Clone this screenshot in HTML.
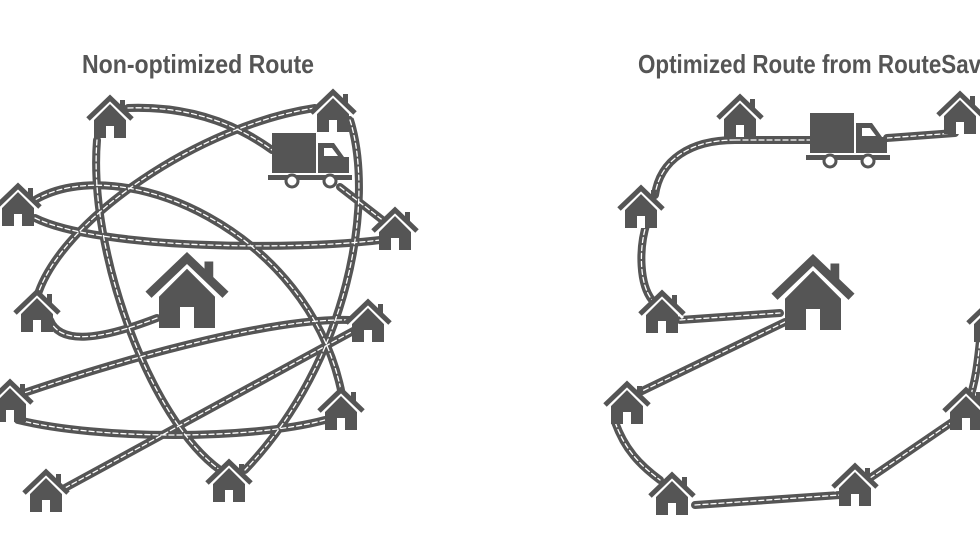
<!DOCTYPE html>
<html><head><meta charset="utf-8"><style>
html,body{margin:0;padding:0;background:#fff;}
svg{display:block}
</style></head><body>
<svg width="980" height="552" viewBox="0 0 980 552" xmlns="http://www.w3.org/2000/svg">
<defs>
<g id="h">
<rect x="10" y="-38" width="5" height="16" fill="#555"/>
<polygon points="-16,0 -16,-20 0,-35 16,-20 16,0" fill="#555"/>
<rect x="-4" y="-12" width="8" height="12" fill="#fff"/>
<polyline points="-21,-15 0,-36 21,-15" fill="none" stroke="#fff" stroke-width="3"/>
<polyline points="-22,-19 0,-40 22,-19" fill="none" stroke="#555" stroke-width="5"/>
</g>
<g id="t">
<rect x="0" y="0" width="44" height="40" fill="#555"/>
<path d="M46,10 H62 L72,24 H77 V40 H46 Z" fill="#555"/>
<path d="M52,15 H60 L66,23 H52 Z" fill="#fff"/>
<rect x="-4" y="42" width="84" height="5" fill="#555"/>
<circle cx="20" cy="48" r="6" fill="#fff" stroke="#555" stroke-width="3"/>
<circle cx="58" cy="48" r="6" fill="#fff" stroke="#555" stroke-width="3"/>
</g>
</defs>

<text x="198" y="73" text-anchor="middle" font-family="Liberation Sans, sans-serif" font-weight="bold" font-size="26" fill="#555" textLength="232" lengthAdjust="spacingAndGlyphs">Non-optimized Route</text>
<text x="638" y="73" font-family="Liberation Sans, sans-serif" font-weight="bold" font-size="26" fill="#555" textLength="368" lengthAdjust="spacingAndGlyphs">Optimized Route from RouteSavvy</text>

<g fill="none" stroke-linecap="round">
<g stroke="#555" stroke-width="8">
<path d="M128,108 Q210,105 272,150"/>
<path d="M340,187 L385,222"/>
<path d="M315,108 C200,125 60,220 37,297"/>
<path d="M350,120 C375,200 350,360 245,470"/>
<path d="M97,140 C88,250 150,420 220,470"/>
<path d="M35,200 C120,150 310,230 342,395"/>
<path d="M35,218 C100,250 300,250 380,240"/>
<path d="M157,318 C100,340 60,345 50,320"/>
<path d="M18,395 C150,350 280,318 350,320"/>
<path d="M18,420 C100,440 250,440 325,420"/>
<path d="M65,488 L355,330"/>
<path d="M735,140 L810,140"/>
<path d="M887,138 L955,133"/>
<path d="M735,140 C690,140 660,160 655,195"/>
<path d="M647,222 C638,250 640,285 652,300"/>
<path d="M680,320 L780,313"/>
<path d="M785,322 L640,392"/>
<path d="M615,422 C625,450 640,465 660,480"/>
<path d="M695,505 L840,495"/>
<path d="M870,478 L955,420"/>
<path d="M965,410 C975,390 978,360 980,340"/>
</g>
<g stroke="#fff" stroke-width="1.3" stroke-dasharray="5,3">
<path d="M128,108 Q210,105 272,150"/>
<path d="M340,187 L385,222"/>
<path d="M315,108 C200,125 60,220 37,297"/>
<path d="M350,120 C375,200 350,360 245,470"/>
<path d="M97,140 C88,250 150,420 220,470"/>
<path d="M35,200 C120,150 310,230 342,395"/>
<path d="M35,218 C100,250 300,250 380,240"/>
<path d="M157,318 C100,340 60,345 50,320"/>
<path d="M18,395 C150,350 280,318 350,320"/>
<path d="M18,420 C100,440 250,440 325,420"/>
<path d="M65,488 L355,330"/>
<path d="M735,140 L810,140"/>
<path d="M887,138 L955,133"/>
<path d="M735,140 C690,140 660,160 655,195"/>
<path d="M647,222 C638,250 640,285 652,300"/>
<path d="M680,320 L780,313"/>
<path d="M785,322 L640,392"/>
<path d="M615,422 C625,450 640,465 660,480"/>
<path d="M695,505 L840,495"/>
<path d="M870,478 L955,420"/>
<path d="M965,410 C975,390 978,360 980,340"/>
</g>
</g>

<use href="#h" x="110" y="138"/>
<use href="#h" x="333" y="132"/>
<use href="#t" x="272" y="133"/>
<use href="#h" x="18" y="226"/>
<use href="#h" x="395" y="250"/>
<use href="#h" transform="translate(187,328) scale(1.75)"/>
<use href="#h" x="37" y="332"/>
<use href="#h" x="368" y="342"/>
<use href="#h" x="10" y="422"/>
<use href="#h" x="341" y="430"/>
<use href="#h" x="46" y="512"/>
<use href="#h" x="229" y="502"/>

<use href="#h" x="740" y="137"/>
<use href="#t" x="810" y="113"/>
<use href="#h" x="960" y="134"/>
<use href="#h" x="641" y="228"/>
<use href="#h" x="662" y="333"/>
<use href="#h" transform="translate(813,330) scale(1.75)"/>
<use href="#h" x="627" y="424"/>
<use href="#h" x="672" y="515"/>
<use href="#h" x="855" y="506"/>
<use href="#h" x="966" y="430"/>
<use href="#h" x="990" y="342"/>
</svg>
</body></html>
